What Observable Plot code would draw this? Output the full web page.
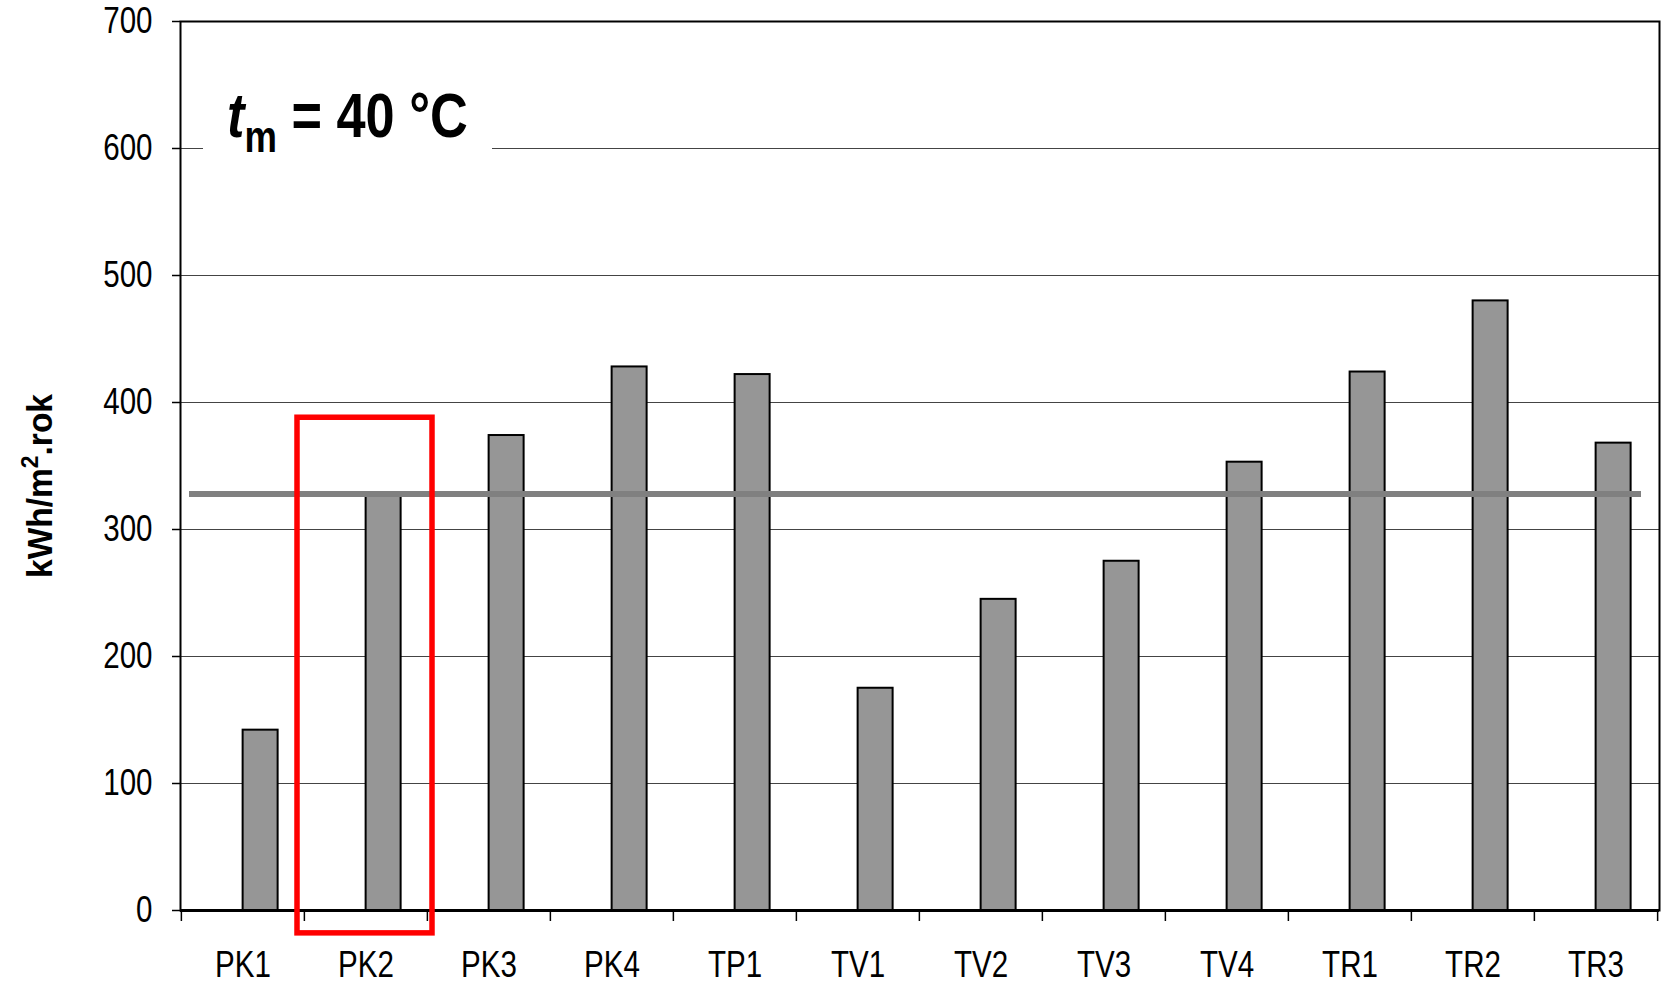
<!DOCTYPE html>
<html>
<head>
<meta charset="utf-8">
<script src="https://cdn.jsdelivr.net/npm/d3@7"></script>
<script src="https://cdn.jsdelivr.net/npm/@observablehq/plot@0.6"></script>
<style>
  html, body { margin: 0; padding: 0; background: #fff; }
  #wrap { position: relative; width: 1662px; height: 982px; }
  #title {
    position: absolute; left: 203px; top: 85px; width: 289px; height: 100px;
    background: #fff; font-family: "Liberation Sans", Arial, sans-serif;
    font-weight: bold; font-size: 63px; line-height: 60px; color: #000; white-space: nowrap;
    padding-left: 24px; box-sizing: border-box;
  }
  #title .inner { display: inline-block; transform: scaleX(0.83); transform-origin: left center; }
  #title .t { font-style: italic; }
  #title sub { font-size: 44px; position: relative; top: 15px; vertical-align: baseline; line-height: 0; }
</style>
</head>
<body>
<div id="wrap">
  <div id="chart"></div>
  <div id="title"><span class="inner"><span class="t">t</span><sub>m</sub> = 40 °C</span></div>
</div>
<script>
const categories = ["PK1","PK2","PK3","PK4","TP1","TV1","TV2","TV3","TV4","TR1","TR2","TR3"];
const values = [142, 326, 374, 428, 422, 175, 245, 275, 353, 424, 480, 368];
const referenceValue = [328];
const yTicks = [0, 100, 200, 300, 400, 500, 600, 700];
const highlight = [{category: "PK2", top: 388, bottom: -18}];
const yLabelParts = ["kWh/m", "2", ".rok"];

const data = categories.map((c, i) => ({category: c, value: values[i]}));

const W = 1662, H = 982;
const mL = 180, mR = 3, mT = 21, mB = 72;
const pInner = 0.714, pOuter = 0.357;
const step = (W - mL - mR) / categories.length;
const bw = step * (1 - pInner);
const font = '"Liberation Sans", Arial, sans-serif';

const chart = Plot.plot({
  width: W, height: H,
  marginLeft: mL, marginRight: mR, marginTop: mT, marginBottom: mB,
  style: {fontFamily: font, fontSize: "36px", color: "#000", background: "#fff", overflow: "visible"},
  x: {type: "band", domain: categories, paddingInner: pInner, paddingOuter: pOuter, label: null},
  y: {domain: [0, 700], label: null},
  marks: [
    Plot.gridY(yTicks.filter(d => d > 0), {stroke: "#444", strokeOpacity: 1, strokeWidth: 1.2}),
    Plot.barY(data, {x: "category", y: "value", fill: "#969696", stroke: "#000", strokeWidth: 2, dx: bw / 2}),
    Plot.ruleY(referenceValue, {stroke: "#808080", strokeWidth: 6, insetLeft: 9, insetRight: 18}),
    Plot.frame({stroke: "#000", strokeWidth: 2}),
    Plot.ruleY([0], {stroke: "#000", strokeWidth: 3}),
    Plot.axisY({ticks: yTicks, tickSize: 8, tickPadding: 20, tickFormat: d => String(d), fontSize: 36, label: null, strokeWidth: 1.5}),
    Plot.axisX({ticks: categories, tickSize: 11, dx: -step / 2, tickFormat: () => "", label: null, strokeWidth: 1.5}),
    Plot.axisX({ticks: categories.slice(-1), tickSize: 11, dx: step / 2, tickFormat: () => "", label: null, strokeWidth: 1.5}),
    Plot.axisX({ticks: categories, tickSize: 0, tickPadding: 41, fontSize: 36, label: null}),
    Plot.text([yLabelParts.join("")], {frameAnchor: "left", textAnchor: "middle", rotate: -90, dx: -140, dy: 20, fontSize: 35, fontWeight: "bold", fill: "#000", className: "ylab"}),
    Plot.barY(highlight, {x: "category", y1: "bottom", y2: "top", fill: "none", stroke: "#ff0000", strokeWidth: 5.5,
      insetLeft: -((step - bw) / 2 + 7), insetRight: -((step - bw) / 2 + 5)})
  ]
});
document.getElementById("chart").appendChild(chart);

// y label with a raised "2"
const ylabText = chart.querySelector(".ylab text");
if (ylabText) {
  ylabText.textContent = "";
  const ns = "http://www.w3.org/2000/svg";
  yLabelParts.forEach((p, i) => {
    const ts = document.createElementNS(ns, "tspan");
    ts.textContent = p;
    if (i === 1) { ts.setAttribute("dy", "-14"); ts.setAttribute("font-size", "24"); }
    if (i === 2) { ts.setAttribute("dy", "14"); }
    ylabText.appendChild(ts);
  });
}

// condense text horizontally (narrow face look)
chart.querySelectorAll("text").forEach(t => {
  const len = t.getComputedTextLength();
  if (!len) return;
  const isYLab = t.closest(".ylab") !== null;
  const target = isYLab ? 184 : len * 0.82;
  t.setAttribute("textLength", target);
  t.setAttribute("lengthAdjust", "spacingAndGlyphs");
});
</script>
</body>
</html>
